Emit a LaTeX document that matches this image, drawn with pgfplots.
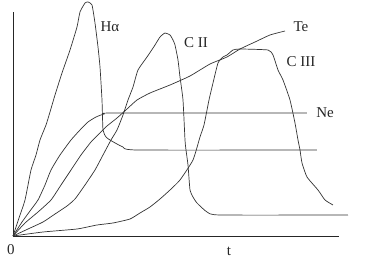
\documentclass[border=0pt]{standalone}
\usepackage{fontspec}
\setmainfont{Liberation Serif}
\usepackage{pgfplots}
\pgfplotsset{compat=1.18}
\tikzset{lbl/.style={font=\fontsize{15}{18}\selectfont, text=black!85}}
\begin{document}
\begin{tikzpicture}
\begin{axis}[
  scale only axis, width=326pt, height=224pt,
  xmin=0, xmax=326, ymin=0, ymax=224,
  axis lines=left, axis line style={-, black!85, line width=0.7pt},
  xtick=\empty, ytick=\empty,
  clip=false,
  every axis plot post/.append style={black!80, line width=0.7pt, mark=none, smooth, tension=0.3}
]
\path (axis cs:-13,-37) rectangle (axis cs:363,236);
% H alpha
\addplot coordinates {(0,0)(6,18)(12,36)(18,66)(23,81)(27,96)(33,111)(37,124)(42,141)(49,163)(57,186)(64,209)(67,224)(72,233)(75,234)(79,231)(82,213)(85,189)(87,169)(89,136)(90,106)(93,99)(97,96)(104,92)(110,89)(124,86)(304,86)};
% Ne
\addplot coordinates {(0,0)(9,14)(17,25)(25,36)(32,51)(38,66)(47,81)(58,96)(67,106)(75,114)(83,119)(91,122)(100,123)(294,123)};
% Te
\addplot coordinates {(0,0)(12,13)(25,24)(38,36)(48,51)(58,66)(68,81)(78,94)(87,103)(94,110)(104,118)(114,127)(124,136)(137,143)(157,151)(177,160)(197,172)(214,179)(227,187)(242,194)(257,201)(272,205)};
% C II
\addplot coordinates {(0,0)(15,7)(30,14)(42,22)(54,30)(62,37)(72,51)(82,66)(90,81)(98,96)(104,106)(110,121)(115,136)(120,149)(125,166)(134,179)(142,191)(147,199)(152,203)(157,201)(160,196)(162,191)(165,176)(167,159)(170,136)(172,96)(173,86)(175,71)(177,46)(180,39)(184,33)(194,24)(207,21)(335,21)};
% C III
\addplot coordinates {(0,0)(30,4)(64,7)(84,11)(100,13)(117,17)(127,23)(137,29)(147,37)(157,46)(167,56)(180,76)(187,99)(191,111)(196,136)(200,153)(205,173)(210,179)(214,181)(220,186)(227,187)(255,186)(260,181)(265,166)(270,156)(277,136)(282,113)(285,96)(287,86)(289,73)(294,59)(305,46)(312,36)(320,31)};
\node[lbl] at (axis cs:97,209) {Hα};
\node[lbl] at (axis cs:183,193) {C II};
\node[lbl] at (axis cs:288,209) {Te};
\node[lbl] at (axis cs:288,174) {C III};
\node[lbl] at (axis cs:312,123) {Ne};
\node[lbl] at (axis cs:-2,-14) {0};
\node[lbl] at (axis cs:216,-15) {t};
\end{axis}
\end{tikzpicture}
\end{document}
